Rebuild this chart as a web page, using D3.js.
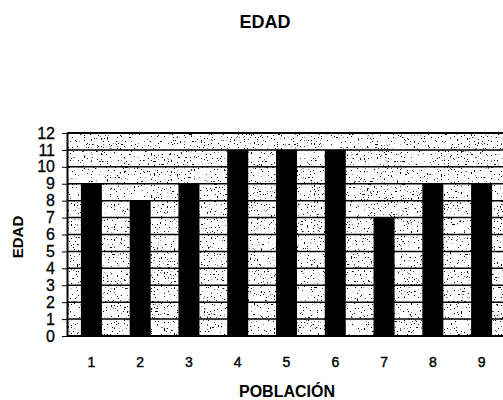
<!DOCTYPE html>
<html>
<head>
<meta charset="utf-8">
<script src="https://cdnjs.cloudflare.com/ajax/libs/d3/7.8.5/d3.min.js"></script>
<style>
  body { margin: 0; background: #fff; }
  svg { display: block; }
  text { font-family: "Liberation Sans", Arial, sans-serif; fill: #000; }
</style>
</head>
<body>
<div class="page"></div>
<script>
// Chart data
var titleText = "EDAD";
var yLabel = "EDAD";
var xLabel = "POBLACIÓN";
var categories = ["1", "2", "3", "4", "5", "6", "7", "8", "9"];
var values = [9, 8, 9, 11, 11, 11, 7, 9, 9];
var yTicks = [0, 1, 2, 3, 4, 5, 6, 7, 8, 9, 10, 11, 12];

(function() {
  var w = 503, h = 400;
  // note: "top" is taken by window.top, so keep plot bounds in an object
  var m = {left: 67, top: 133, bottom: 336, right: 506};

  var svg = d3.select(".page").append("svg")
    .attr("xmlns", "http://www.w3.org/2000/svg")
    .attr("width", w)
    .attr("height", h);

  var x = d3.scaleBand()
    .domain(categories)
    .range([m.left, m.right])
    .padding(0);

  var y = d3.scaleLinear()
    .domain([0, 12])
    .range([m.bottom, m.top]);

  var barWidth = 21;

  // Stipple texture for the back wall, made from noise so it is not typed by hand
  var defs = svg.append("defs");
  var filter = defs.append("filter")
    .attr("id", "stipple")
    .attr("filterUnits", "userSpaceOnUse")
    .attr("x", m.left).attr("y", m.top)
    .attr("width", m.right - m.left).attr("height", m.bottom - m.top);
  filter.append("feTurbulence")
    .attr("type", "fractalNoise")
    .attr("baseFrequency", 0.7)
    .attr("numOctaves", 1)
    .attr("seed", 7)
    .attr("result", "noise");
  filter.append("feColorMatrix")
    .attr("in", "noise")
    .attr("type", "matrix")
    .attr("values", "0 0 0 0 0  0 0 0 0 0  0 0 0 0 0  20 0 0 0 -12.9");

  var plot = svg.append("g").attr("class", "plot");

  plot.append("rect")
    .attr("x", m.left).attr("y", m.top)
    .attr("width", m.right - m.left).attr("height", m.bottom - m.top)
    .attr("fill", "#fff");

  plot.append("rect")
    .attr("x", m.left).attr("y", m.top)
    .attr("width", m.right - m.left).attr("height", m.bottom - m.top)
    .attr("fill", "#000")
    .attr("filter", "url(#stipple)");

  // Horizontal grid lines
  plot.selectAll("line.grid")
    .data(yTicks.slice(1))
    .enter()
    .append("line")
    .attr("class", "grid")
    .attr("x1", m.left).attr("x2", m.right)
    .attr("y1", function(d) { return y(d); })
    .attr("y2", function(d) { return y(d); })
    .attr("stroke", "#000")
    .attr("stroke-width", 1.5);

  // Bars
  plot.selectAll("rect.bar")
    .data(values)
    .enter()
    .append("rect")
    .attr("class", "bar")
    .attr("x", function(d, i) { return x(categories[i]) + x.bandwidth() / 2 - barWidth / 2; })
    .attr("y", function(d) { return y(d); })
    .attr("width", barWidth)
    .attr("height", function(d) { return y(0) - y(d); })
    .attr("fill", "#000");

  // Top border and baseline
  plot.append("line")
    .attr("x1", m.left).attr("x2", m.right)
    .attr("y1", m.top).attr("y2", m.top)
    .attr("stroke", "#000").attr("stroke-width", 2);
  plot.append("line")
    .attr("x1", m.left).attr("x2", m.right)
    .attr("y1", m.bottom).attr("y2", m.bottom)
    .attr("stroke", "#000").attr("stroke-width", 2);

  // Y axis
  var yAxis = svg.append("g")
    .attr("transform", "translate(" + m.left + ",0)")
    .call(d3.axisLeft(y).tickValues(yTicks).tickSize(5).tickSizeOuter(0).tickPadding(7));
  yAxis.select(".domain").attr("stroke-width", 2);
  yAxis.selectAll("text")
    .style("font-family", "Liberation Sans, Arial, sans-serif")
    .style("font-size", "16px")
    .attr("stroke", "#000")
    .attr("stroke-width", 0.3);

  // X axis, labels only
  var xAxis = svg.append("g")
    .attr("transform", "translate(0," + m.bottom + ")")
    .call(d3.axisBottom(x).tickSize(0).tickPadding(21));
  xAxis.select(".domain").remove();
  xAxis.selectAll("text")
    .style("font-family", "Liberation Sans, Arial, sans-serif")
    .style("font-size", "14px")
    .attr("stroke", "#000")
    .attr("stroke-width", 0.4);

  // Titles
  svg.append("text")
    .attr("x", 265).attr("y", 28)
    .attr("text-anchor", "middle")
    .style("font-size", "18px")
    .style("font-weight", "bold")
    .text(titleText);

  svg.append("text")
    .attr("x", 287).attr("y", 397)
    .attr("text-anchor", "middle")
    .style("font-size", "16px")
    .style("font-weight", "bold")
    .text(xLabel);

  svg.append("text")
    .attr("transform", "translate(23,237) rotate(-90)")
    .attr("text-anchor", "middle")
    .style("font-size", "15px")
    .style("font-weight", "bold")
    .text(yLabel);
})();
</script>
</body>
</html>
